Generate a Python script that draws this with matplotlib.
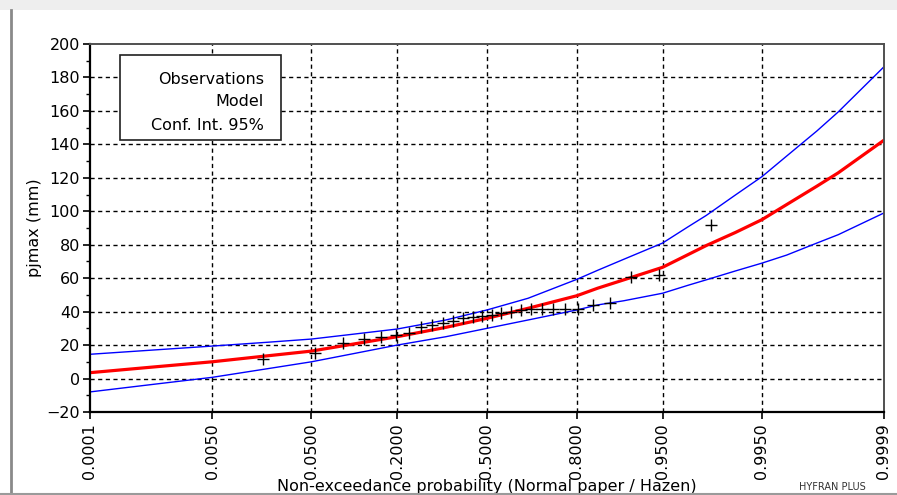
import numpy as np
import matplotlib
matplotlib.use("Agg")
import matplotlib.pyplot as plt
from matplotlib.patches import Rectangle
from matplotlib.lines import Line2D
from statistics import NormalDist

plt.rcParams['font.family'] = ['DejaVu Sans']

# Observed sample (sorted), plotted at Hazen positions (i - 0.5) / n
obs = [11.5, 15.5, 21, 23.5, 25, 26, 27, 31, 32, 33, 34.5, 36, 37, 37.5,
       38, 39, 40, 41, 41.5, 41.5, 41.5, 41.5, 41.5, 44, 45, 61, 62, 92]

# Fitted model and 95% confidence interval, read at these probabilities
prob = [0.0001, 0.001, 0.005, 0.02, 0.05, 0.1, 0.2, 0.35, 0.5, 0.65, 0.8,
        0.85, 0.9, 0.95, 0.97, 0.98, 0.99, 0.995, 0.9975, 0.999, 0.9995, 0.9999]
model = [3.5, 7.1, 10, 13.6, 16.4, 20.3, 25, 30.6, 36, 42, 49.5,
         54, 59, 66.5, 74, 79.5, 87.3, 95, 104, 115, 123, 142.5]
upper = [14.5, 17.2, 19.4, 21.7, 23.6, 26.3, 29.6, 35, 41, 48, 59.3,
         64.7, 71.3, 81, 90.6, 97.5, 109.7, 120.7, 133, 148, 159.4, 186.4]
lower = [-8, -3.2, 0.7, 5.9, 10, 14.5, 20, 25, 30, 35, 41,
         44, 46.5, 51, 55.7, 59, 64.3, 69, 73.8, 81, 86, 99]

tick_probs = [0.0001, 0.005, 0.05, 0.2, 0.5, 0.8, 0.95, 0.995, 0.9999]

nd = NormalDist()
z = lambda ps: np.array([nd.inv_cdf(p) for p in ps])

n = len(obs)
hazen = [(i - 0.5) / n for i in range(1, n + 1)]

fig = plt.figure(figsize=(8.97, 4.95), dpi=100)
ax = fig.add_axes([0.1003, 0.1677, 0.8852, 0.7434])

ax.plot(z(prob), upper, color='blue', lw=1.0)
ax.plot(z(prob), lower, color='blue', lw=1.0)
ax.plot(z(prob), model, color='red', lw=2.3)
ax.plot(z(hazen), obs, ls='none', marker='+', color='black', ms=9, mew=1.0)

ax.set_xlim(z([0.0001])[0], z([0.9999])[0])
ax.set_ylim(-20, 200)
ax.set_xticks(z(tick_probs))
ax.set_xticklabels(['%.4f' % p for p in tick_probs], rotation=90)
ax.set_yticks(np.arange(-20, 201, 20))
ax.set_yticks(np.arange(-20, 201, 10), minor=True)
ax.tick_params(axis='both', labelsize=11.5, direction='out', width=1.2, length=5)
ax.tick_params(axis='y', which='minor', length=3, width=1.0)
ax.tick_params(axis='x', pad=3)
ax.tick_params(axis='y', pad=2)

for yv in np.arange(0, 181, 20):
    ax.axhline(yv, color='black', lw=1.0, ls=(0, (3, 2.5)), zorder=0)
for xv in z(tick_probs)[1:-1]:
    ax.axvline(xv, color='black', lw=1.0, ls=(0, (3, 2.5)), zorder=0)

for s in ['left', 'bottom']:
    ax.spines[s].set_linewidth(1.6)
    ax.spines[s].set_color('black')
for s in ['top', 'right']:
    ax.spines[s].set_linewidth(1.4)
    ax.spines[s].set_color('#505050')

ax.set_ylabel('pjmax (mm)', fontsize=11.5, labelpad=3)
ax.set_xlabel('Non-exceedance probability (Normal paper / Hazen)', fontsize=11.5, labelpad=0)

# legend box (text only)
W, H = 897.0, 495.0
fig.patches.append(Rectangle((120 / W, 1 - 140 / H), 161 / W, 85 / H, transform=fig.transFigure,
                             fill=True, facecolor='white', edgecolor='#202020', lw=1.2, zorder=5))
for txt, yp in [('Observations', 79), ('Model', 102), ('Conf. Int. 95%', 126)]:
    fig.text(264 / W, 1 - yp / H, txt, ha='right', va='center', fontsize=11.5, zorder=6)

# window chrome
fig.patches.append(Rectangle((0, 1 - 10 / H), 1, 10 / H, transform=fig.transFigure,
                             facecolor='#eeeeee', edgecolor='none', zorder=-1))
fig.lines.append(Line2D([11 / W, 11 / W], [1 - 10 / H, 0], transform=fig.transFigure,
                        color='#8a8a8a', lw=2))
fig.lines.append(Line2D([0, 1], [1 / H, 1 / H], transform=fig.transFigure,
                        color='#9a9a9a', lw=1.5))
fig.text(832 / W, 3 / H, 'HYFRAN PLUS', ha='center', va='bottom', fontsize=7, color='#333333')

fig.savefig('out.png', dpi=100)
